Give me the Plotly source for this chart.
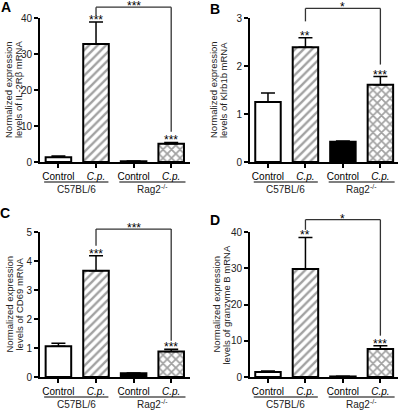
import plotly.graph_objects as go

# ---------------- data ----------------
categories = ["Control", "C.p.", "Control", "C.p."]
tick_text = ["Control", "<i>C.p.</i>", "Control", "<i>C.p.</i>"]
groups = ["C57BL/6", "Rag2<sup>-/-</sup>"]

il2rb_mean = [1.3, 32.8, 0.2, 5.1]
il2rb_sem = [0.35, 6.1, 0.05, 0.35]
klrb1b_mean = [1.25, 2.39, 0.42, 1.61]
klrb1b_sem = [0.19, 0.2, 0.02, 0.17]
cd69_mean = [1.06, 3.66, 0.13, 0.88]
cd69_sem = [0.1, 0.52, 0.01, 0.08]
gzmb_mean = [1.35, 29.8, 0.15, 7.7]
gzmb_sem = [0.3, 8.7, 0.03, 0.9]

bar_stars = [["", "***", "", "***"], ["", "**", "", "***"],
             ["", "***", "", "***"], ["", "**", "", "***"]]
bracket_stars = ["***", "*", "***", "*"]
# bracket: (height, left-leg bottom, right-leg bottom) in data units
brackets = [(43.0, 40.6, 8.4), (3.2, 2.93, 2.03), (5.1, 4.53, 1.25), (43.4, 40.6, 11.4)]

y_title_line1 = ["Normalized expression"] * 4
y_title_line2 = ["levels of IL-2R\u03b2 mRNA", "levels of Klrb1b mRNA",
                 "levels of CD69 mRNA", "levels of granzyme B mRNA"]
y_max = [40, 3, 5, 40]
y_dtick = [10, 1, 1, 10]
letters = ["A", "B", "C", "D"]

# ---------------- style ----------------
W, H = 400, 410
FONT = "Liberation Sans, Arial, sans-serif"
fills = ["white", "white", "black", "white"]
patterns = ["", "/", "", "x"]
pat_size = [6, 6, 6, 6]
pat_solid = [0.4, 0.4, 0.4, 0.5]

# panel pixel boxes: (x0, x1, ytop, ybottom)
boxes = [(40, 190, 18, 162), (250, 398, 18, 162), (40, 190, 232, 377), (250, 398, 232, 377)]
xranges = [[-0.49, 3.5], [-0.48, 3.47], [-0.49, 3.5], [-0.48, 3.47]]
title_x = [(9, 19), (214, 224), (9, 19), (216, 226)]
letter_pos = [(6, 7), (215, 9), (5, 213), (215, 220)]

means = [il2rb_mean, klrb1b_mean, cd69_mean, gzmb_mean]
sems = [il2rb_sem, klrb1b_sem, cd69_sem, gzmb_sem]

fig = go.Figure()
annotations = []
shapes = []


def ypaper(i, v):
    x0, x1, yt, yb = boxes[i]
    px = yb - (v / y_max[i]) * (yb - yt)
    return 1 - px / H


for i in range(4):
    sfx = "" if i == 0 else str(i + 1)
    x0, x1, yt, yb = boxes[i]
    fig.add_trace(go.Bar(
        x=[0, 1, 2, 3], y=means[i], width=0.68,
        marker=dict(color=fills, line=dict(color="black", width=2),
                    pattern=dict(shape=patterns, fgcolor="black", size=pat_size,
                                 solidity=pat_solid)),
        error_y=dict(type="data", symmetric=False, array=sems[i], arrayminus=[0, 0, 0, 0],
                     color="black", thickness=1.5, width=7),
        xaxis="x" + sfx, yaxis="y" + sfx, showlegend=False, hoverinfo="skip"))

    fig.layout["xaxis" + sfx] = dict(
        domain=[x0 / W, x1 / W], anchor="y" + sfx, range=xranges[i], automargin=False,
        tickvals=[0, 1, 2, 3], ticktext=tick_text, showline=True, linecolor="black",
        linewidth=2, ticks="outside", ticklen=4, tickwidth=1.5, tickcolor="black",
        showgrid=False, zeroline=False, tickfont=dict(size=10, color="black", family=FONT))
    fig.layout["yaxis" + sfx] = dict(
        domain=[1 - yb / H, 1 - yt / H], anchor="x" + sfx, range=[0, y_max[i]],
        automargin=False,
        dtick=y_dtick[i], showline=True, linecolor="black", linewidth=2,
        ticks="outside", ticklen=4, tickwidth=1.5, tickcolor="black",
        showgrid=False, zeroline=False, tickfont=dict(size=10, color="#222", family=FONT))

    # y title (two lines)
    for txt, tx in [(y_title_line1[i], title_x[i][0]), (y_title_line2[i], title_x[i][1])]:
        annotations.append(dict(text=txt, textangle=-90, xref="paper", yref="paper",
                                x=tx / W, y=1 - (yt + yb) / 2 / H, showarrow=False,
                                xanchor="center", yanchor="middle",
                                font=dict(size=9.5, color="#222", family=FONT)))
    # letter
    annotations.append(dict(text="<b>" + letters[i] + "</b>", xref="paper", yref="paper",
                            x=letter_pos[i][0] / W, y=1 - letter_pos[i][1] / H, showarrow=False,
                            xanchor="center", yanchor="middle",
                            font=dict(size=14, color="black", family=FONT)))
    # group lines + labels
    xr = "x" + sfx
    for g, (a, b) in enumerate([(-0.38, 1.33), (1.62, 3.38)]):
        shapes.append(dict(type="line", xref=xr, yref="paper", x0=a, x1=b,
                           y0=1 - (yb + 20) / H, y1=1 - (yb + 20) / H,
                           line=dict(color="black", width=1.2)))
        annotations.append(dict(text=groups[g], xref=xr, yref="paper", x=(a + b) / 2,
                                y=1 - (yb + 27) / H, showarrow=False,
                                xanchor="center", yanchor="middle",
                                font=dict(size=10, color="#222", family=FONT)))
    # stars over bars
    for k in range(4):
        if bar_stars[i][k]:
            annotations.append(dict(text=bar_stars[i][k], xref=xr, yref="paper", x=k,
                                    y=ypaper(i, means[i][k] + sems[i][k]), yanchor="middle",
                                    xanchor="center", yshift=2, showarrow=False,
                                    font=dict(size=12, color="black", family=FONT)))
    # bracket
    hgt, lb, rb = brackets[i]
    for (xa, ya, xb, yb2) in [(1, lb, 1, hgt), (1, hgt, 3, hgt), (3, hgt, 3, rb)]:
        shapes.append(dict(type="line", xref=xr, yref="paper", x0=xa, x1=xb,
                           y0=ypaper(i, ya), y1=ypaper(i, yb2),
                           line=dict(color="#333", width=1.3)))
    annotations.append(dict(text=bracket_stars[i], xref=xr, yref="paper", x=2,
                            y=ypaper(i, hgt), yanchor="middle", xanchor="center",
                            yshift=1, showarrow=False,
                            font=dict(size=12, color="black", family=FONT)))

fig.update_layout(width=W, height=H, margin=dict(l=0, r=0, t=0, b=0, autoexpand=False),
                  paper_bgcolor="white", plot_bgcolor="white",
                  annotations=annotations, shapes=shapes, bargap=0.3,
                  font=dict(family=FONT))
fig.write_html("out.html", config={"displayModeBar": False},
               post_script="document.body.style.margin='0px';document.body.style.padding='0px';")
